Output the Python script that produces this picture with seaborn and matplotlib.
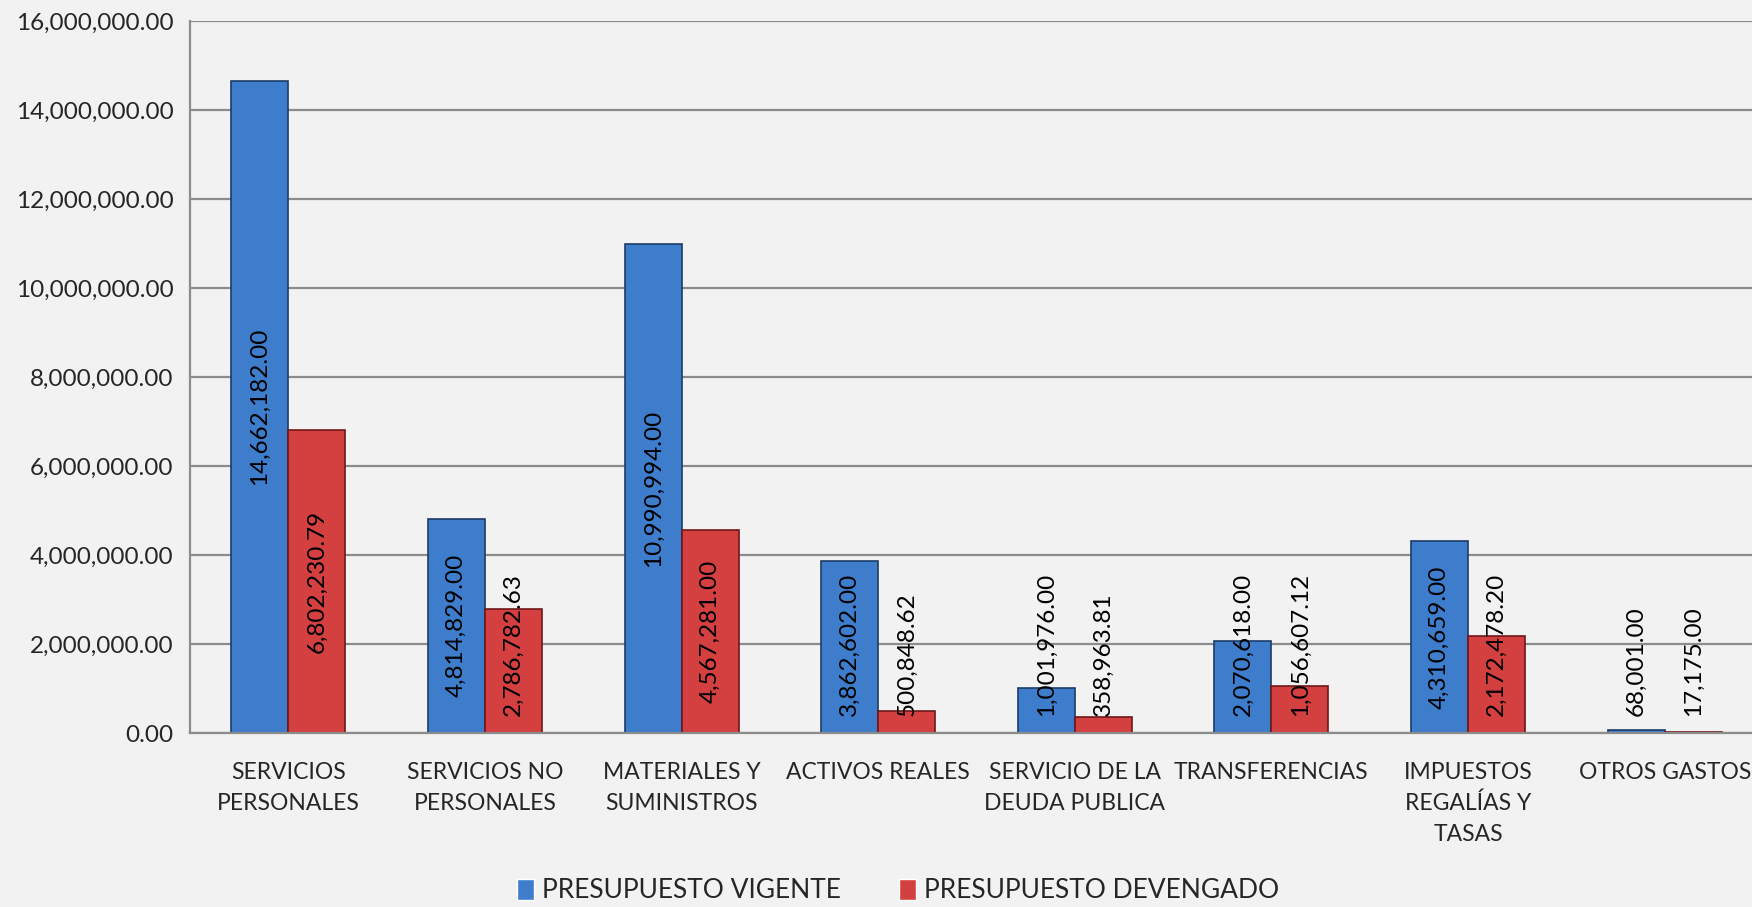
import matplotlib
matplotlib.use("Agg")
import matplotlib.pyplot as plt
import seaborn as sns
import pandas as pd
from matplotlib.ticker import FuncFormatter, FixedLocator

categorias = [
    "SERVICIOS\nPERSONALES",
    "SERVICIOS NO\nPERSONALES",
    "MATERIALES Y\nSUMINISTROS",
    "ACTIVOS REALES",
    "SERVICIO DE LA\nDEUDA PUBLICA",
    "TRANSFERENCIAS",
    "IMPUESTOS\nREGALÍAS Y\nTASAS",
    "OTROS GASTOS",
]
vigente = [14662182.00, 4814829.00, 10990994.00, 3862602.00,
           1001976.00, 2070618.00, 4310659.00, 68001.00]
devengado = [6802230.79, 2786782.63, 4567281.00, 500848.62,
             358963.81, 1056607.12, 2172478.20, 17175.00]
series = ["PRESUPUESTO VIGENTE", "PRESUPUESTO DEVENGADO"]

df = pd.DataFrame({
    "categoria": categorias * 2,
    "serie": [series[0]] * len(categorias) + [series[1]] * len(categorias),
    "valor": vigente + devengado,
})

sns.set_style("white")
plt.rcParams["font.family"] = ["Lato", "DejaVu Sans"]
bg = "#f2f2f2"
grid_c = "#8c8c8c"

fig = plt.figure(figsize=(17.52, 9.07), dpi=100, facecolor=bg)
ax = fig.add_axes([190 / 1752, 174 / 907, 1573 / 1752, 712 / 907])
ax.set_facecolor(bg)

sns.barplot(data=df, x="categoria", y="valor", hue="serie",
            palette=["#3d7dcc", "#d44040"], width=0.58, gap=0,
            saturation=1, ax=ax, legend=True)

edges = {series[0]: "#1c3c66", series[1]: "#6e1818"}
for cont, name in zip(ax.containers, series):
    for p in cont:
        p.set_edgecolor(edges[name])
        p.set_linewidth(1.2)

ax.set_ylim(0, 16000000)
ax.set_xlim(-0.5, 7.5)
ax.yaxis.set_major_locator(FixedLocator(range(0, 16000001, 2000000)))
ax.yaxis.set_major_formatter(FuncFormatter(lambda v, p: f"{v:,.2f}"))
ax.grid(axis="y", color=grid_c, linewidth=1.6)
ax.set_axisbelow(True)
for s in ["top", "right"]:
    ax.spines[s].set_visible(False)
for s in ["left", "bottom"]:
    ax.spines[s].set_color(grid_c)
    ax.spines[s].set_linewidth(1.6)

ax.tick_params(axis="y", length=7, width=1.6, color=grid_c, labelsize=17.5, pad=5)
ax.tick_params(axis="x", which="major", length=0, labelsize=16.5, pad=21)
ax.set_xticks([i - 0.5 for i in range(9)], minor=True)
ax.tick_params(axis="x", which="minor", length=9, width=1.6, color=grid_c)
ax.set_xlabel("")
ax.set_ylabel("")
for lbl in ax.get_xticklabels():
    lbl.set_linespacing(1.55)

# etiquetas de valor, centradas en la barra y sin bajar del eje
texts = []
for cont in ax.containers:
    for p in cont:
        v = p.get_height()
        t = ax.text(p.get_x() + p.get_width() / 2, v / 2, f"{v:,.2f}",
                    rotation=90, ha="center", va="center", fontsize=17.5,
                    color="black")
        texts.append(t)

fig.canvas.draw()
r = fig.canvas.get_renderer()
zero_px = ax.transData.transform((0, 0))[1]
for t in texts:
    bb = t.get_window_extent(r)
    if bb.y0 < zero_px + 17:
        shift = zero_px + 17 - bb.y0
        x, y = t.get_position()
        ypx = ax.transData.transform((x, y))[1] + shift
        t.set_y(ax.transData.inverted().transform((0, ypx))[1])

leg = ax.legend(loc="center", bbox_to_anchor=(898 / 1752, 16 / 907),
                bbox_transform=fig.transFigure, ncol=2, frameon=False,
                fontsize=19, handlelength=0.65, handleheight=0.85,
                handletextpad=0.3, columnspacing=2.2, title=None)

fig.savefig("out.png", dpi=100, facecolor=bg)
